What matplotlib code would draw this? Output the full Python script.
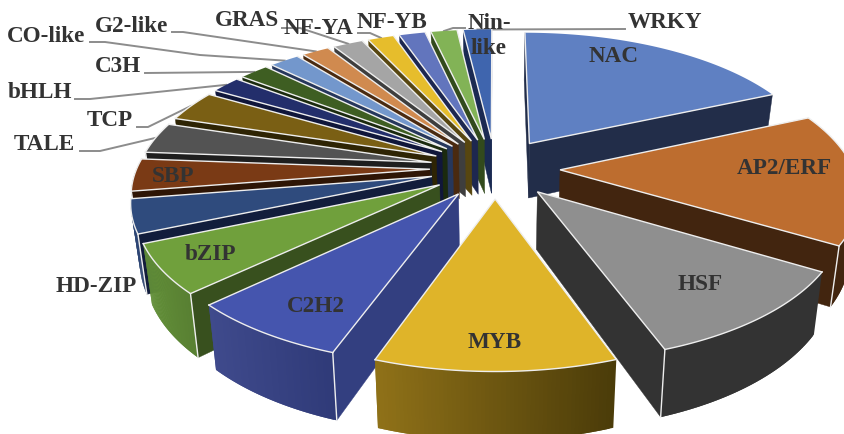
import numpy as np
import matplotlib
matplotlib.use("Agg")
import matplotlib.pyplot as plt
from matplotlib.patches import Polygon
from matplotlib.colors import to_rgb

# Share of each family, clockwise from twelve o'clock
families = ["NAC", "AP2/ERF", "HSF", "MYB", "C2H2", "bZIP", "HD-ZIP", "SBP", "TALE", "TCP",
            "bHLH", "C3H", "CO-like", "G2-like", "GRAS", "NF-YA", "NF-YB", "Nin-like", "WRKY"]
shares = [18.3, 15.3, 10.85, 10.95, 7.4, 5.7, 3.9, 3.75, 3.6, 3.6,
          1.95, 1.95, 1.95, 1.8, 1.95, 1.7, 1.7, 1.7, 1.85]

top_colors = ["#5f80c2", "#bd6d2f", "#8f8f8f", "#dfb429", "#4555ae", "#70a03c", "#2f4b7d",
              "#7a3a15", "#535353", "#7a5f14", "#232e6b", "#3e5e22", "#7397cc", "#d08a4f",
              "#a5a5a5", "#e6bd2c", "#6275bd", "#82b356", "#3f65ae"]
side_colors = ["#222d49", "#42250f", "#333333", "#5e4a10", "#333f80", "#38501e", "#121d3c",
               "#2e1505", "#1e1e1e", "#2e2404", "#10163a", "#1b2a0e", "#26375c", "#4a2a10",
               "#3e3e3e", "#574610", "#1d2750", "#324a1c", "#1a2a52"]
# Outer wall shading, left end to right end
arc_left = dict(zip(families, side_colors))
arc_left.update({"MYB": "#8f7118", "C2H2": "#3f4a8c", "bZIP": "#628f38", "HD-ZIP": "#2c4575"})
arc_right = dict(zip(families, side_colors))
arc_right.update({"MYB": "#4a3b09", "C2H2": "#2f3a78", "bZIP": "#587f32", "HD-ZIP": "#233a66"})

# Layout of the tilted pie, in pixels of the canvas
CX, CY = 495.0, 168.0
RX, RY = 293.0, 135.0
PERSP = 0.155
EXPLODE = 0.222
DEPTH = 56.0
CONVERGE = 0.025
EDGE = "#eeeeee"
TEXT = "#333333"
LEADER = "#8c8c8c"

# Label centres and the start of each leader
label_pos = {"NAC": (614, 56), "AP2/ERF": (784, 168), "HSF": (700, 284), "MYB": (495, 342),
             "C2H2": (316, 306), "bZIP": (210, 255), "HD-ZIP": (96, 286), "SBP": (173, 177),
             "TALE": (44, 144), "TCP": (110, 120), "bHLH": (40, 93), "C3H": (118, 67),
             "CO-like": (46, 36), "G2-like": (132, 26), "GRAS": (247, 21), "NF-YA": (319, 28),
             "NF-YB": (392, 23), "Nin-like": (489, 36), "WRKY": (665, 22)}
leaders = {"TALE": [(80, 151), (100, 151)], "TCP": [(137, 127), (148, 127)],
           "bHLH": [(75, 99), (90, 99)], "C3H": [(145, 73)],
           "CO-like": [(90, 42), (105, 42), (200, 55)], "G2-like": [(172, 32), (183, 32)],
           "GRAS": [(282, 28), (300, 28)], "NF-YA": [(358, 33), (370, 33)],
           "Nin-like": [(465, 28), (453, 28)], "WRKY": [(625, 29), (482, 29.5)]}


def project(X, Y):
    w = 1.0 / (1.0 + PERSP * Y)
    return CX + RX * X * w, CY - RY * Y * w, w


def drop(x, y, w):
    return CX + (x - CX) * (1 - CONVERGE), y + DEPTH * w


fig = plt.figure(figsize=(8.45, 4.34), dpi=100)
ax = fig.add_axes([0, 0, 1, 1])
ax.set_xlim(0, 845)
ax.set_ylim(434, 0)
ax.axis("off")

angles = np.cumsum([0.0] + shares) / sum(shares) * 2 * np.pi
slices = []
for i, name in enumerate(families):
    a0, a1 = angles[i], angles[i + 1]
    mid = (a0 + a1) / 2
    ox, oy = EXPLODE * np.sin(mid), EXPLODE * np.cos(mid)
    t = np.linspace(a0, a1, 60)
    slices.append(dict(i=i, name=name, a0=a0, a1=a1, mid=mid, ox=ox, oy=oy, t=t,
                       X=ox + np.sin(t), Y=oy + np.cos(t), depth=oy + np.cos(mid)))

# Leaders sit beneath the pie and run to the middle of each outer arc
for s in slices:
    if s["name"] in leaders:
        ex, ey, _ = project(s["ox"] + np.sin(s["mid"]), s["oy"] + np.cos(s["mid"]))
        pts = leaders[s["name"]] + [(ex, ey)]
        ax.plot(*zip(*pts), color=LEADER, lw=1.4, zorder=1, solid_joinstyle="round")

z = 2.0
for s in sorted(slices, key=lambda d: -d["depth"]):
    i = s["i"]
    px, py, w = project(s["X"], s["Y"])
    bx, by = drop(px, py, w)
    ax0, ay0, aw = project(s["ox"], s["oy"])
    bx0, by0 = drop(ax0, ay0, aw)
    side = side_colors[i]

    # A radial wall faces the viewer only on its own side of the vertical
    for k, visible in ((0, np.sin(s["a0"]) < 0.001), (-1, np.sin(s["a1"]) > -0.001)):
        if visible:
            ax.add_patch(Polygon([(ax0, ay0), (px[k], py[k]), (bx[k], by[k]), (bx0, by0)],
                                 closed=True, fc=side, ec=side, lw=0.3, zorder=z))
            z += 0.01

    # Outer wall, front-facing part only, in overlapping strips for a smooth ramp
    keep = np.where(np.cos(s["t"]) < 0.05)[0]
    if keep.size > 1:
        lo, hi = px.min(), px.max()
        c0 = np.array(to_rgb(arc_left[s["name"]]))
        c1 = np.array(to_rgb(arc_right[s["name"]]))
        for j in keep[:-1]:
            n = min(j + 2, keep[-1])
            f = (0.5 * (px[j] + px[n]) - lo) / max(hi - lo, 1e-6)
            col = tuple(c0 + (c1 - c0) * f)
            ax.add_patch(Polygon([(px[j], py[j]), (px[n], py[n]), (bx[n], by[n]), (bx[j], by[j])],
                                 closed=True, fc=col, ec="none", zorder=z))
        z += 0.01

    # Highlight on the corner nearest the viewer
    k = -1 if s["mid"] < np.pi else 0
    edge_angle = s["a1"] if k == -1 else s["a0"]
    if abs(edge_angle - np.pi) < np.radians(100) and not (s["a0"] < np.pi < s["a1"]):
        ax.plot([px[k], bx[k]], [py[k], by[k]], color=EDGE, lw=1.0, zorder=z)
        z += 0.01

    ax.add_patch(Polygon(np.column_stack([np.r_[ax0, px], np.r_[ay0, py]]), closed=True,
                         fc=top_colors[i], ec="none", zorder=z))
    z += 0.01
    ax.plot([px[0], ax0, px[-1]], [py[0], ay0, py[-1]], color=EDGE, lw=1.0, zorder=z,
            solid_joinstyle="miter")
    if s["depth"] < 0.6:
        ax.plot(px, py, color=EDGE, lw=1.0, zorder=z)
    z += 0.01

for name, (lx, ly) in label_pos.items():
    txt = "Nin-\nlike" if name == "Nin-like" else name
    ax.text(lx, ly, txt, ha="center", va="center", family="Liberation Serif", weight="bold",
            fontsize=16.7, color=TEXT, zorder=100, linespacing=1.2)

fig.savefig("out.png", dpi=100)
